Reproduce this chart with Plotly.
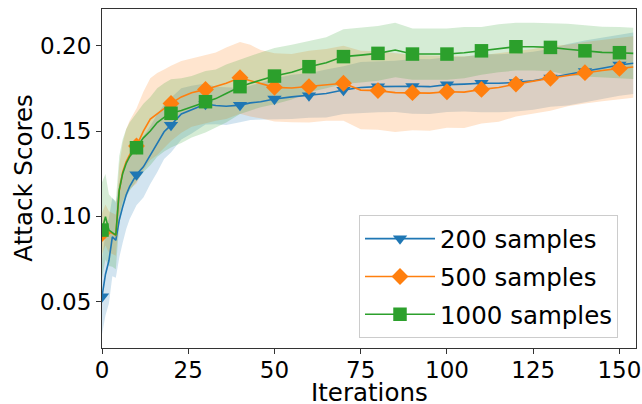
import plotly.graph_objects as go

# ---------------- data ----------------
iterations = [0, 1, 2, 3, 4, 5, 6, 7, 8, 10, 12, 14, 16, 18, 20, 23, 26, 30, 33, 36,
              40, 43, 46, 50, 55, 60, 65, 70, 75, 80, 85, 90, 95, 100, 105, 110, 115,
              120, 125, 130, 135, 140, 145, 150, 154]

mean_200 = [0.053, 0.066, 0.074, 0.088, 0.086, 0.0978, 0.1056, 0.1125, 0.1174, 0.1245,
            0.129, 0.136, 0.1428, 0.1496, 0.1535, 0.1600, 0.1625, 0.1658, 0.1650, 0.1645,
            0.1652, 0.1665, 0.1672, 0.1688, 0.1700, 0.1708, 0.1720, 0.1740, 0.1755, 0.1760,
            0.1762, 0.1762, 0.1760, 0.1772, 0.1775, 0.1780, 0.1780, 0.1785, 0.1795, 0.1812,
            0.1830, 0.1850, 0.1868, 0.1887, 0.1897]
std_200 = [0.022, 0.024, 0.025, 0.023, 0.022, 0.022, 0.021, 0.02, 0.019, 0.018,
           0.018, 0.017, 0.017, 0.016, 0.016, 0.015, 0.014, 0.012, 0.011, 0.011,
           0.010, 0.010, 0.011, 0.012, 0.013, 0.013, 0.014, 0.014, 0.015, 0.015,
           0.015, 0.016, 0.016, 0.016, 0.016, 0.017, 0.017, 0.017, 0.017, 0.017,
           0.018, 0.018, 0.018, 0.018, 0.018]

mean_500 = [0.090, 0.095, 0.091, 0.090, 0.089, 0.115, 0.126, 0.132, 0.136, 0.1412,
            0.150, 0.157, 0.160, 0.163, 0.1662, 0.170, 0.1725, 0.1744, 0.1760, 0.1780,
            0.1812, 0.1795, 0.1775, 0.1756, 0.1752, 0.1760, 0.1770, 0.1780, 0.1740, 0.1737,
            0.1725, 0.1725, 0.1722, 0.1730, 0.1728, 0.1744, 0.1755, 0.1775, 0.1790, 0.1809,
            0.1825, 0.1842, 0.1855, 0.1867, 0.1875]
std_500 = [0.012, 0.012, 0.012, 0.012, 0.012, 0.015, 0.017, 0.019, 0.02, 0.022,
           0.023, 0.024, 0.024, 0.023, 0.022, 0.021, 0.02, 0.02, 0.02, 0.021,
           0.021, 0.021, 0.02, 0.02, 0.02, 0.021, 0.021, 0.022, 0.023, 0.023,
           0.023, 0.022, 0.022, 0.021, 0.021, 0.02, 0.02, 0.019, 0.019, 0.019,
           0.018, 0.018, 0.018, 0.018, 0.018]

mean_1000 = [0.092, 0.0998, 0.092, 0.0905, 0.089, 0.1154, 0.1252, 0.131, 0.135, 0.1402,
             0.146, 0.150, 0.155, 0.158, 0.1604, 0.162, 0.1642, 0.1672, 0.169, 0.172,
             0.1760, 0.178, 0.180, 0.1822, 0.1845, 0.1877, 0.1900, 0.1936, 0.1945, 0.1955,
             0.1975, 0.1951, 0.1951, 0.1951, 0.1959, 0.1970, 0.1985, 0.1994, 0.1994, 0.1990,
             0.1979, 0.1970, 0.1961, 0.1959, 0.1955]
std_1000 = [0.028, 0.025, 0.021, 0.02, 0.02, 0.02, 0.02, 0.02, 0.02, 0.02,
            0.02, 0.02, 0.02, 0.02, 0.02, 0.019, 0.018, 0.018, 0.017, 0.017,
            0.016, 0.016, 0.016, 0.0165, 0.016, 0.015, 0.015, 0.016, 0.016, 0.016,
            0.016, 0.015, 0.015, 0.015, 0.015, 0.014, 0.014, 0.014, 0.014, 0.014,
            0.015, 0.015, 0.015, 0.015, 0.015]

series_names = ["200 samples", "500 samples", "1000 samples"]
x_ticks = [0, 25, 50, 75, 100, 125, 150]
y_ticks = [0.05, 0.10, 0.15, 0.20]
x_label = "Iterations"
y_label = "Attack Scores"
marker_every = 10

# ---------------- styling ----------------
colors = ["#1f77b4", "#ff7f0e", "#2ca02c"]
fills = ["rgba(31,119,180,0.2)", "rgba(255,127,14,0.2)", "rgba(44,160,44,0.2)"]
symbols = ["triangle-down", "diamond", "square"]
msizes = [12.5, 13, 13.5]
FONT = "DejaVu Sans"

means = [mean_200, mean_500, mean_1000]
stds = [std_200, std_500, std_1000]

fig = go.Figure()

# bands
for m, s, fc in zip(means, stds, fills):
    up = [a + b for a, b in zip(m, s)]
    lo = [a - b for a, b in zip(m, s)]
    fig.add_trace(go.Scatter(
        x=iterations + iterations[::-1], y=up + lo[::-1],
        fill="toself", fillcolor=fc, line=dict(width=0),
        mode="lines", hoverinfo="skip", showlegend=False))

# lines and markers
for i, (m, c, sym, ms, name) in enumerate(zip(means, colors, symbols, msizes, series_names)):
    fig.add_trace(go.Scatter(
        x=iterations, y=m, mode="lines", line=dict(color=c, width=1.6),
        showlegend=False))
    mx = [x for x in iterations if x % marker_every == 0]
    my = [y for x, y in zip(iterations, m) if x % marker_every == 0]
    fig.add_trace(go.Scatter(
        x=mx, y=my, mode="markers",
        marker=dict(symbol=sym, size=ms, color=c, line=dict(width=0)),
        showlegend=False))
    fig.add_trace(go.Scatter(
        x=[None], y=[None], mode="lines+markers", name=name,
        legendgroup="g%d" % i,
        line=dict(color=c, width=1.6),
        marker=dict(symbol=sym, size=ms, color=c, line=dict(width=0))))

axis_common = dict(
    showline=True, linecolor="#333333", linewidth=1.2, mirror=True,
    ticks="outside", ticklen=5, tickcolor="#333333", tickwidth=1,
    showgrid=False, zeroline=False, automargin=False,
    tickfont=dict(family=FONT, size=23, color="black"),
)

fig.update_layout(
    width=642, height=404,
    margin=dict(l=101.5, r=6, t=9, b=56, autoexpand=False),
    paper_bgcolor="white", plot_bgcolor="white",
    font=dict(family=FONT, color="black"),
    xaxis=dict(range=[0, 154.8], tickvals=x_ticks, ticklabelstandoff=-4, **axis_common),
    yaxis=dict(range=[0.0229, 0.2215], tickvals=y_ticks, tickformat=".2f", **axis_common),
    legend=dict(
        x=0.9663, y=0.029, xanchor="right", yanchor="bottom",
        bgcolor="rgba(255,255,255,0.8)", bordercolor="#cccccc", borderwidth=1,
        font=dict(family=FONT, size=24.5, color="black"),
        itemwidth=70, tracegroupgap=3,
    ),
    annotations=[
        dict(text=x_label, xref="paper", yref="paper", x=0.5, y=-0.132,
             xanchor="center", yanchor="middle", showarrow=False,
             font=dict(family=FONT, size=24.5, color="black")),
        dict(text=y_label, xref="paper", yref="paper", x=-0.1477, y=0.5,
             xanchor="center", yanchor="middle", showarrow=False, textangle=-90,
             font=dict(family=FONT, size=24.5, color="black")),
    ],
)

fig.write_html(
    "out.html",
    config={"displayModeBar": False},
    post_script="document.body.style.margin='0';document.body.style.padding='0';",
)
